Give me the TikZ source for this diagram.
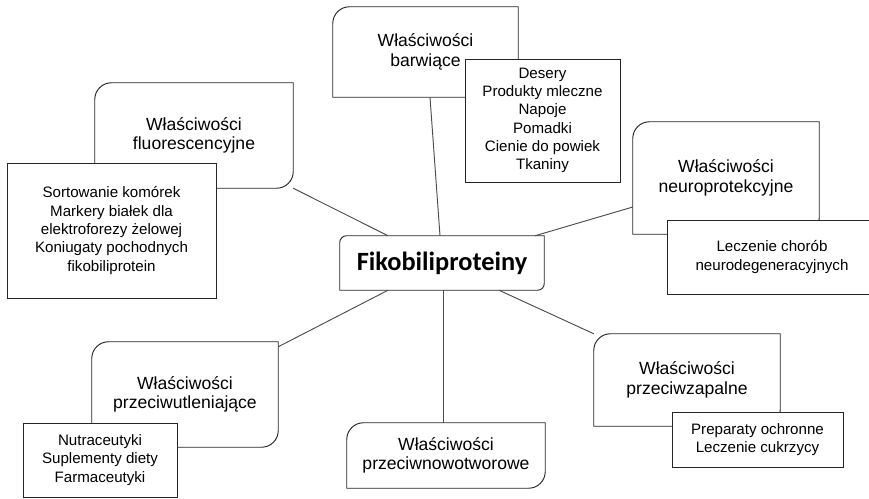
\documentclass[tikz,border=0pt]{standalone}
\usepackage{fontspec}
\setmainfont{Liberation Sans}
\newfontfamily\hubfont{Carlito}
\usetikzlibrary{positioning, calc}

% box with two rounded corners (top left, bottom right)
\newcommand{\diagbox}[2][0.5cm]{%
  \draw[boxline] (#2.south west) -- ([yshift=-#1]#2.north west)
    arc[start angle=180, end angle=90, radius=#1] -- (#2.north east)
    -- ([yshift=#1]#2.south east)
    arc[start angle=0, end angle=-90, radius=#1] -- cycle;}

\begin{document}
\begin{tikzpicture}[x=0.03cm, y=-0.03cm,
  boxline/.style={draw=black!85, line width=0.8pt},
  link/.style={draw=black!70, line width=0.8pt},
  prop/.style={align=center, inner sep=0pt, font=\fontsize{15}{16.5}\selectfont},
  list/.style={boxline, fill=white, align=center, inner sep=0pt,
    font=\fontsize{12.9}{15.6}\selectfont},
  hubbox/.style={align=center, inner sep=0pt,
    font=\hubfont\bfseries\fontsize{22.5}{26}\selectfont}]
\useasboundingbox (0,0) rectangle (869,498);
\clip (0,0) rectangle (869,498);

% properties
\node[prop, minimum width=5.94cm, minimum height=3.15cm] (fluor) at (194,135.5) {Właściwości\\fluorescencyjne};
\node[prop, minimum width=5.55cm, minimum height=2.7cm] (barw) at (425.5,52) {Właściwości\\barwiące};
\node[prop, minimum width=5.58cm, minimum height=3.36cm] (neuro) at (726,178) {Właściwości\\neuroprotekcyjne};
\node[prop, minimum width=5.58cm, minimum height=3.15cm] (utl) at (185,394.5) {Właściwości\\przeciwutleniające};
\node[prop, minimum width=5.94cm, minimum height=1.95cm] (nowot) at (446,455.5) {Właściwości\\przeciwnowotworowe};
\node[prop, minimum width=5.58cm, minimum height=2.76cm] (zapal) at (687,380) {Właściwości\\przeciwzapalne};
\node[hubbox, minimum width=6.12cm, minimum height=1.62cm] (hub) at (442,263) {Fikobiliproteiny};

\diagbox{fluor}
\diagbox{barw}
\diagbox{neuro}
\diagbox{utl}
\diagbox{nowot}
\diagbox{zapal}
\diagbox[0.2cm]{hub}

% links
\draw[link] ($(hub.north)+(-54,0)$) -- (fluor.south east);
\draw[link] ($(hub.north)+(-2,0)$) -- ($(barw.south)+(4.5,0)$);
\draw[link] ($(hub.north)+(93,0)$) -- ($(neuro.west)+(0,29)$);
\draw[link] ($(hub.south)+(-54,0)$) -- ($(utl.north east)+(0,5)$);
\draw[link] ($(hub.south)+(1,0)$) -- ($(nowot.north)+(-3,0)$);
\draw[link] ($(hub.south)+(57,0)$) -- (zapal.north west);

% uses
\node[list, minimum width=6.27cm, minimum height=4.05cm] (fluorlist) at (111.5,230.5) {Sortowanie komórek\\Markery białek dla\\elektroforezy żelowej\\Koniugaty pochodnych\\fikobiliprotein};
\node[list, minimum width=4.65cm, minimum height=3.69cm] (barwlist) at (542.5,120.5) {Desery\\Produkty mleczne\\Napoje\\Pomadki\\Cienie do powiek\\Tkaniny};
\node[list, minimum width=6.3cm, minimum height=2.22cm] (neurolist) at (772,257) {Leczenie chorób\\neurodegeneracyjnych};
\node[list, minimum width=4.62cm, minimum height=2.22cm] (utllist) at (100,460) {Nutraceutyki\\Suplementy diety\\Farmaceutyki};
\node[list, minimum width=5.13cm, minimum height=1.65cm] (zapallist) at (757.5,439.5) {Preparaty ochronne\\Leczenie cukrzycy};
\end{tikzpicture}
\end{document}
